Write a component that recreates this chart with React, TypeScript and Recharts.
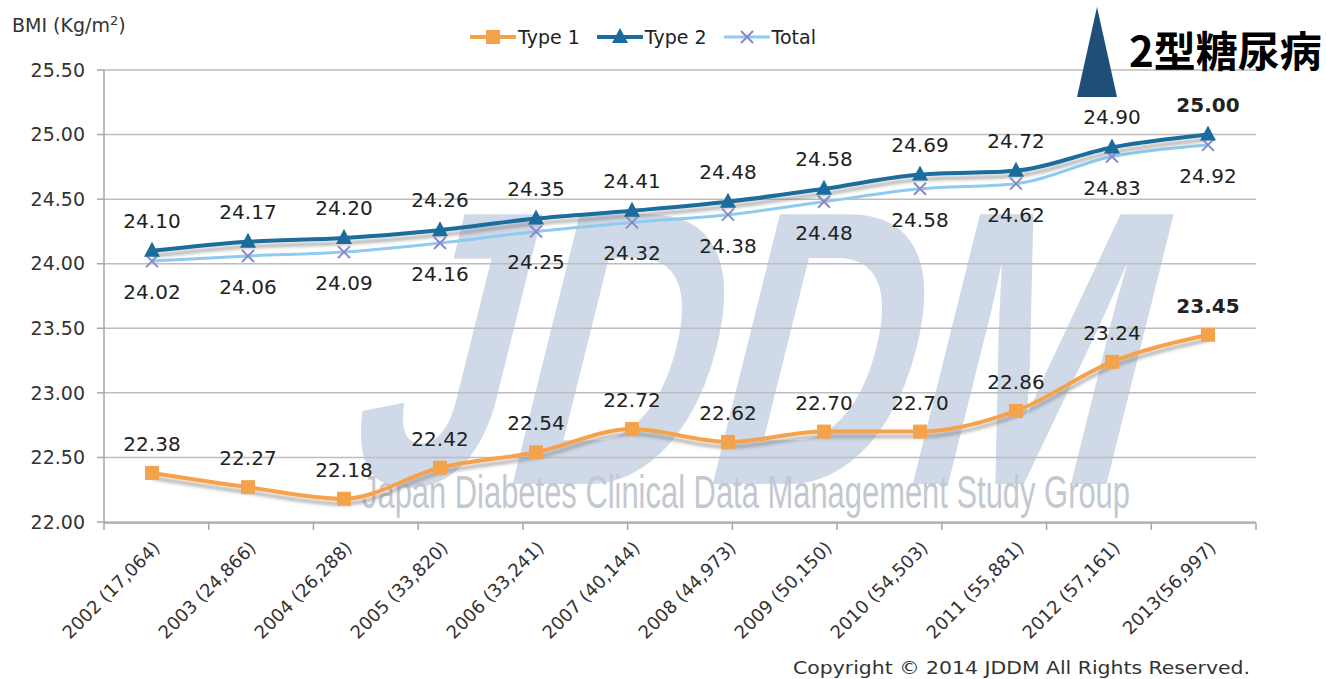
import React from 'react';
import { LineChart, Line, XAxis, YAxis, CartesianGrid, Legend, LabelList } from 'recharts';

const categories = [
  '2002 (17,064)', '2003 (24,866)', '2004 (26,288)', '2005 (33,820)', '2006 (33,241)', '2007 (40,144)',
  '2008 (44,973)', '2009 (50,150)', '2010 (54,503)', '2011 (55,881)', '2012 (57,161)', '2013(56,997)',
];
const type1Values = [22.38, 22.27, 22.18, 22.42, 22.54, 22.72, 22.62, 22.70, 22.70, 22.86, 23.24, 23.45];
const type2Values = [24.10, 24.17, 24.20, 24.26, 24.35, 24.41, 24.48, 24.58, 24.69, 24.72, 24.90, 25.00];
const totalValues = [24.02, 24.06, 24.09, 24.16, 24.25, 24.32, 24.38, 24.48, 24.58, 24.62, 24.83, 24.92];
const yTicks = [22.0, 22.5, 23.0, 23.5, 24.0, 24.5, 25.0, 25.5];
const boundaryTicks = [0, 1, 2, 3, 4, 5, 6, 7, 8, 9, 10, 11, 12];

const data = categories.map((cat, i) => ({
  cat,
  type1: type1Values[i],
  type2: type2Values[i],
  total: totalValues[i],
}));

const FONT = '"DejaVu Sans", Verdana, sans-serif';
const ORANGE = '#F5A24C';
const BLUE = '#1B6C9C';
const LIGHT = '#8ECBEE';
const CROSS = '#8C88C8';
const last = categories.length - 1;

const SquareDot = (p: any) => {
  const { cx, cy, index } = p;
  if (cx == null || cy == null) return <g key={`s${index}`} />;
  return <rect key={`s${index}`} x={cx - 7} y={cy - 7} width={14} height={14} fill={ORANGE} />;
};
const TriDot = (p: any) => {
  const { cx, cy, index } = p;
  if (cx == null || cy == null) return <g key={`t${index}`} />;
  return <path key={`t${index}`} d={`M${cx},${cy - 9} L${cx + 8},${cy + 6} L${cx - 8},${cy + 6} Z`} fill={BLUE} />;
};
const CrossDot = (p: any) => {
  const { cx, cy, index } = p;
  if (cx == null || cy == null) return <g key={`c${index}`} />;
  return (
    <path key={`c${index}`} d={`M${cx - 6},${cy - 6} L${cx + 6},${cy + 6} M${cx + 6},${cy - 6} L${cx - 6},${cy + 6}`}
      stroke={CROSS} strokeWidth={2} fill="none" />
  );
};

const makeLabel = (dy: number, boldLast: boolean) => (props: any) => {
  const { x, y, value, index } = props;
  return (
    <text key={`l${index}`} x={x} y={y + dy} textAnchor="middle" fontSize={20} fontFamily={FONT}
      fontWeight={boldLast && index === last ? 'bold' : 'normal'} fill="#222">
      {Number(value).toFixed(2)}
    </text>
  );
};

const XTick = (props: any) => {
  const { x, y, payload } = props;
  return (
    <g transform={`translate(${x + 9},${y + 19})`}>
      <text x={0} y={0} textAnchor="end" transform="rotate(-45)" fontSize={18} fontFamily={FONT} fill="#333">
        {payload.value}
      </text>
    </g>
  );
};

const LegendIcon = ({ color, width, marker }: { color: string; width: number; marker: 'sq' | 'tri' | 'x' }) => (
  <svg width={46} height={20} style={{ display: 'block' }}>
    <line x1={0} y1={10} x2={46} y2={10} stroke={color} strokeWidth={width} />
    {marker === 'sq' && <rect x={16} y={3} width={14} height={14} fill={ORANGE} />}
    {marker === 'tri' && <path d="M23,1 L31,16 L15,16 Z" fill={BLUE} />}
    {marker === 'x' && <path d="M17,4 L29,16 M29,4 L17,16" stroke={CROSS} strokeWidth={2} />}
  </svg>
);

const legendItems = [
  { name: 'Type 1', color: ORANGE, width: 4, marker: 'sq' as const },
  { name: 'Type 2', color: BLUE, width: 4, marker: 'tri' as const },
  { name: 'Total', color: LIGHT, width: 3, marker: 'x' as const },
];

const LegendContent = () => (
  <div style={{ display: 'flex', alignItems: 'center', height: 30, fontFamily: FONT, fontSize: 19, color: '#222' }}>
    {legendItems.map((it) => (
      <div key={it.name} style={{ display: 'flex', alignItems: 'center', marginRight: 17 }}>
        <LegendIcon color={it.color} width={it.width} marker={it.marker} />
        <span style={{ marginLeft: 2 }}>{it.name}</span>
      </div>
    ))}
  </div>
);

export default function App() {
  return (
    <div style={{ position: 'absolute', left: 0, top: 0, width: 1326, height: 679, background: '#fff', overflow: 'hidden' }}>
      <svg width={1326} height={679} style={{ position: 'absolute', left: 0, top: 0 }}>
        <defs>
          <filter id="shadow" x="-5%" y="-20%" width="110%" height="160%">
            <feDropShadow dx="0" dy="5" stdDeviation="1.5" floodColor="#7a7a7a" floodOpacity="0.5" />
          </filter>
        </defs>
        <text transform="translate(340,484) skewX(-14)" x={0} y={0} fontFamily='"Liberation Sans", Arial, sans-serif'
          fontWeight="bold" fontSize={392} fill="#CFD9E7" textLength={785} lengthAdjust="spacingAndGlyphs">
          JDDM
        </text>
        <text x={362} y={508} fontFamily='"Liberation Sans", Arial, sans-serif' fontSize={46} fill="#C3C8D0"
          textLength={768} lengthAdjust="spacingAndGlyphs">
          Japan Diabetes Clinical Data Management Study Group
        </text>
      </svg>
      <div style={{ position: 'absolute', left: 0, top: 0 }}>
        <LineChart width={1326} height={679} data={data} margin={{ top: 20, right: 70, bottom: 0, left: 0 }}>
          <CartesianGrid vertical={false} stroke="#BDBDBD" strokeWidth={1.5} />
          <Legend verticalAlign="top" align="left" height={50} content={<LegendContent />}
            wrapperStyle={{ left: 470, top: 22, width: 440, height: 50 }} />
          <XAxis dataKey="cat" interval={0} padding={{ left: 48, right: 48 }} height={1} tickLine={false}
            axisLine={false} tick={<XTick />} />
          <XAxis xAxisId="bounds" type="number" domain={[0, 12]} ticks={boundaryTicks} height={156} interval={0}
            tickFormatter={() => ''} tick={{ fontSize: 1 }}
            axisLine={{ stroke: '#A6A6A6', strokeWidth: 1.5 }} tickLine={{ stroke: '#A6A6A6', strokeWidth: 1.5 }} tickSize={7} />
          <YAxis width={104} domain={[22, 25.5]} ticks={yTicks} interval={0} tickFormatter={(v: number) => v.toFixed(2)}
            tick={{ fontSize: 19, fill: '#333', fontFamily: FONT }} tickSize={7} tickMargin={12}
            axisLine={{ stroke: '#A6A6A6', strokeWidth: 1.5 }} tickLine={{ stroke: '#A6A6A6', strokeWidth: 1.5 }} />
          <Line type="monotone" dataKey="total" stroke={LIGHT} strokeWidth={3} dot={CrossDot} isAnimationActive={false}>
            <LabelList dataKey="total" content={makeLabel(38, false)} />
          </Line>
          <Line type="monotone" dataKey="type2" stroke={BLUE} strokeWidth={4} dot={TriDot} filter="url(#shadow)"
            isAnimationActive={false}>
            <LabelList dataKey="type2" content={makeLabel(-23, true)} />
          </Line>
          <Line type="monotone" dataKey="type1" stroke={ORANGE} strokeWidth={4} dot={SquareDot} filter="url(#shadow)"
            isAnimationActive={false}>
            <LabelList dataKey="type1" content={makeLabel(-22, true)} />
          </Line>
        </LineChart>
      </div>
      <svg width={1326} height={679} style={{ position: 'absolute', left: 0, top: 0, pointerEvents: 'none' }}>
        <text x={12} y={32} fontFamily={FONT} fontSize={19} fill="#333">
          BMI (Kg/m<tspan fontSize={13} dy={-7}>2</tspan><tspan dy={7}>)</tspan>
        </text>
        <path d="M1097,7 L1117,97 L1077,97 Z" fill="#1F4E79" />
        <text x={1129} y={67} fontFamily='"Noto Sans CJK JP", sans-serif' fontWeight="bold" fontSize={42} fill="#000">
          2型糖尿病
        </text>
        <text x={793} y={674} fontFamily={FONT} fontSize={17} fill="#333" textLength={457} lengthAdjust="spacingAndGlyphs">
          Copyright © 2014 JDDM All Rights Reserved.
        </text>
      </svg>
    </div>
  );
}
